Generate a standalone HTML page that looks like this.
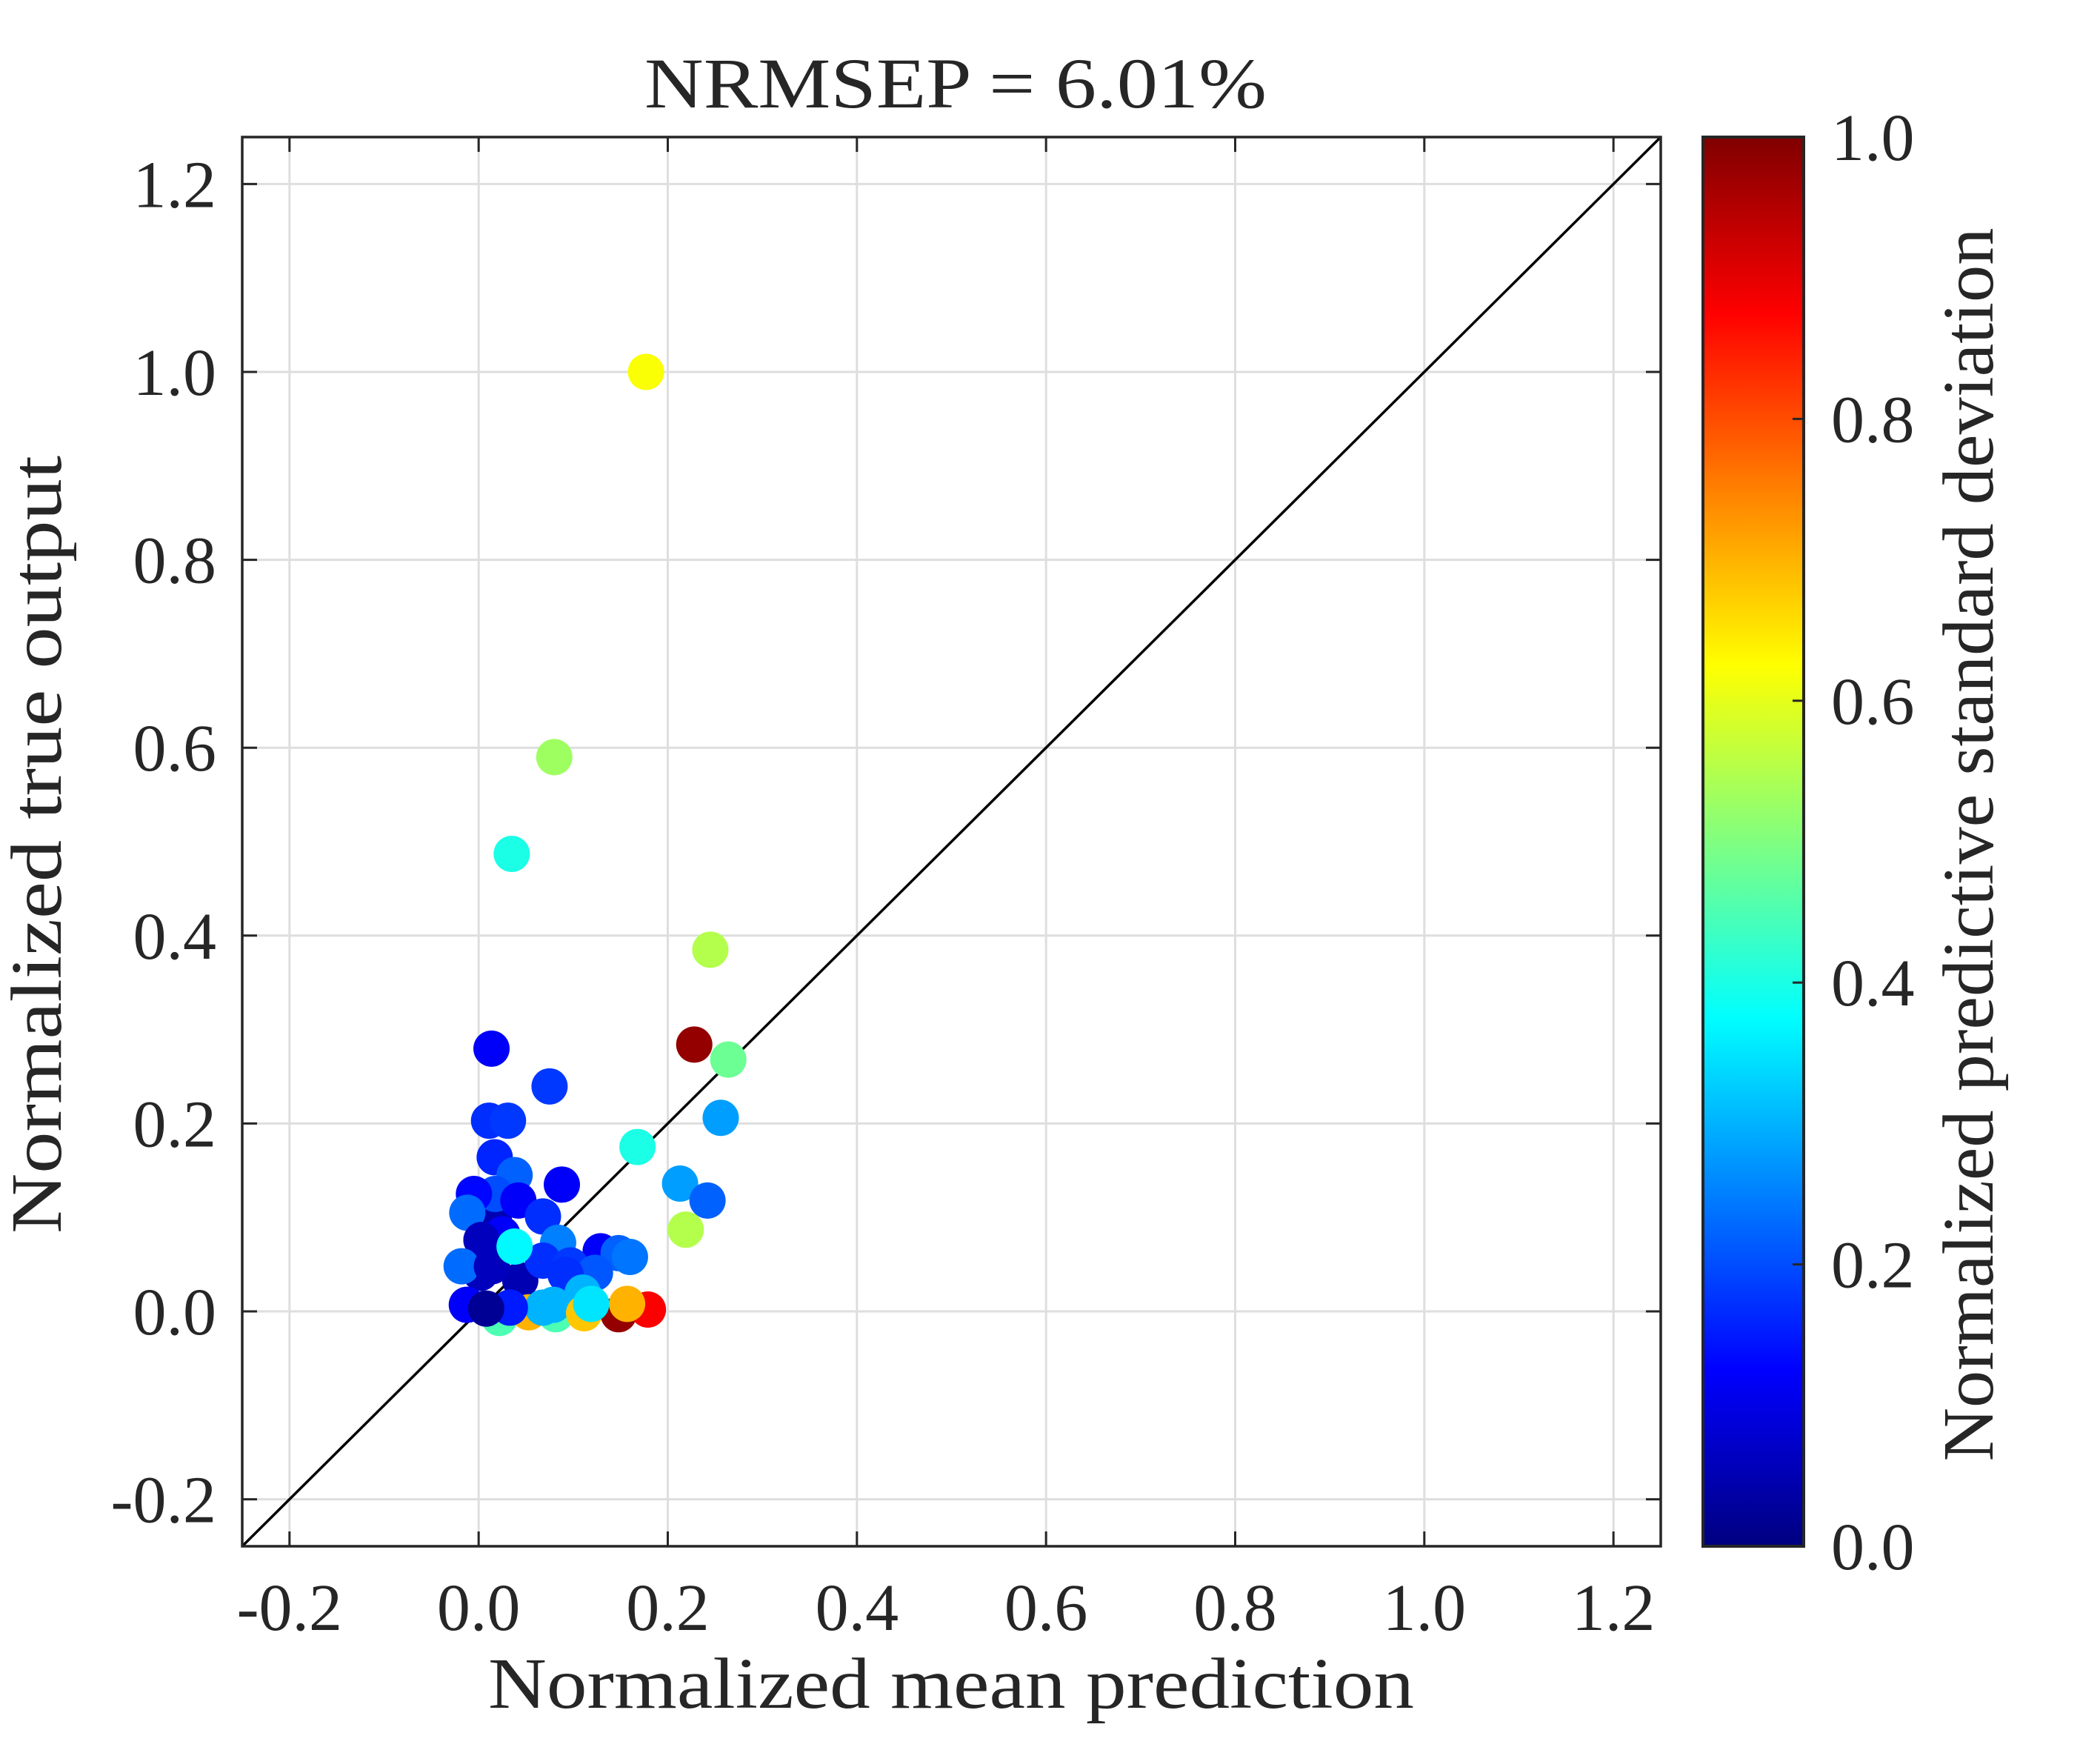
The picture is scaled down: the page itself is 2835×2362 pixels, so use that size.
<!DOCTYPE html>
<html><head><meta charset="utf-8"><style>html,body{margin:0;padding:0;background:#fff}svg{display:block}text{font-family:"Liberation Serif",serif;fill:#262626}</style></head>
<body>
<svg id="chart" width="2835" height="2362" viewBox="0 0 2835 2362" xmlns="http://www.w3.org/2000/svg">
<defs><linearGradient id="jet" x1="0" y1="1" x2="0" y2="0"></linearGradient></defs>
<rect width="2835" height="2362" fill="#fff"/>
<g id="grid"></g>
<line id="diag" stroke="#000" stroke-width="3.5"/>
<g id="pts"></g>
<g id="axes"></g>
<text x="1290" y="145" font-size="96" text-anchor="middle" textLength="840" lengthAdjust="spacingAndGlyphs">NRMSEP = 6.01%</text>
<text x="1284" y="2305" font-size="98" text-anchor="middle" textLength="1250" lengthAdjust="spacingAndGlyphs">Normalized mean prediction</text>
<text transform="translate(82,1140) rotate(-90)" font-size="98" text-anchor="middle" textLength="1050" lengthAdjust="spacingAndGlyphs">Normalized true output</text>
<text transform="translate(2690,1140) rotate(-90)" font-size="98" text-anchor="middle" textLength="1665" lengthAdjust="spacingAndGlyphs">Normalized predictive standard deviation</text>
<rect x="2299" y="185" width="136" height="1902" fill="url(#jet)" stroke="#262626" stroke-width="4"/>
<g id="cbticks"></g>
</svg>
<script>
const xTicks=[-0.2,0,0.2,0.4,0.6,0.8,1.0,1.2];
const yTicks=[-0.2,0,0.2,0.4,0.6,0.8,1.0,1.2];
const cbTicks=[0,0.2,0.4,0.6,0.8,1.0];
const xs=[0.177,0.080,0.035,0.245,0.003,0.016,0.044,0.002,0.0136,0.075,0.011,0.031,0.017,0.038,0.088,0.0175,0.042,-0.005,-0.012,0.068,0.025,0.003,0.084,0.129,0.148,0.160,-0.018,0.014,0.068,0.097,0.123,0.092,0.110,0.022,0.053,0.0815,0.068,0.079,0.1115,0.148,0.179,0.157,0.119,0.038,-0.0125,0.033,0.008,0.228,0.264,0.256,0.168,0.213,0.242,0.219];
const ys=[1.0,0.59,0.487,0.385,0.076,0.099,0.033,0.041,0.2797,0.2395,0.203,0.203,0.164,0.145,0.135,0.125,0.118,0.125,0.105,0.101,0.082,0.076,0.073,0.064,0.062,0.058,0.048,0.048,0.054,0.049,0.041,0.039,0.020,-0.007,-0.001,-0.003,0.004,0.007,-0.002,-0.003,0.002,0.008,0.008,0.069,0.007,0.004,0.003,0.284,0.268,0.206,0.175,0.136,0.118,0.087];
const cs=[0.62,0.53,0.40,0.55,0.04,0.05,0.05,0.06,0.12,0.18,0.17,0.18,0.16,0.22,0.12,0.20,0.12,0.13,0.23,0.17,0.12,0.06,0.25,0.12,0.22,0.24,0.23,0.06,0.17,0.18,0.21,0.17,0.30,0.45,0.70,0.45,0.30,0.30,0.68,0.98,0.88,0.70,0.35,0.37,0.12,0.15,0.02,0.98,0.48,0.28,0.40,0.28,0.22,0.55];
const NS="http://www.w3.org/2000/svg";
const L=327,R=2242,T=185,B=2087,lo=-0.25,hi=1.25;
const X=v=>L+(v-lo)/(hi-lo)*(R-L);
const Y=v=>B-(v-lo)/(hi-lo)*(B-T);
const CY=v=>2087-v*1902;
function jet(v){const f=t=>Math.max(0,Math.min(1,1.5-Math.abs(4*v-t)));const r=f(3),g=f(2),b=f(1);return `rgb(${Math.round(r*255)},${Math.round(g*255)},${Math.round(b*255)})`;}
function mk(tag,attrs,parent){const e=document.createElementNS(NS,tag);for(const k in attrs)e.setAttribute(k,attrs[k]);parent.appendChild(e);return e;}
const grid=document.getElementById('grid'),axes=document.getElementById('axes'),pts=document.getElementById('pts'),cbt=document.getElementById('cbticks');
const gr=document.getElementById('jet');
for(let i=0;i<=40;i++){mk('stop',{offset:(i/40),'stop-color':jet(i/40)},gr);}
xTicks.forEach(t=>{
 const g=mk('line',{x1:X(t),x2:X(t),y1:T,y2:B,stroke:'#dedede','stroke-width':3},grid);
 
 
 mk('line',{x1:X(t),x2:X(t),y1:B,y2:B-20,stroke:'#262626','stroke-width':3},axes);
 mk('line',{x1:X(t),x2:X(t),y1:T,y2:T+20,stroke:'#262626','stroke-width':3},axes);
 const tx=mk('text',{x:X(t),y:2200,'font-size':90,'text-anchor':'middle'},axes);
 tx.textContent=t.toFixed(1);
 
 
});
yTicks.forEach(t=>{
 const g=mk('line',{x1:L,x2:R,y1:Y(t),y2:Y(t),stroke:'#dedede','stroke-width':3},grid);
 
 
 mk('line',{x1:L,x2:L+20,y1:Y(t),y2:Y(t),stroke:'#262626','stroke-width':3},axes);
 mk('line',{x1:R,x2:R-20,y1:Y(t),y2:Y(t),stroke:'#262626','stroke-width':3},axes);
 const tx=mk('text',{x:292,y:Y(t)+31,'font-size':90,'text-anchor':'end'},axes);
 tx.textContent=t.toFixed(1);
 
 
});
const box=mk('rect',{x:L,y:T,width:R-L,height:B-T,fill:'none',stroke:'#262626','stroke-width':3.5},axes);


const d=document.getElementById('diag');
d.setAttribute('x1',X(lo));d.setAttribute('y1',Y(lo));d.setAttribute('x2',X(hi));d.setAttribute('y2',Y(hi));
xs.forEach((x,i)=>{
 const c=mk('circle',{cx:X(x),cy:Y(ys[i]),r:24.5,fill:jet(cs[i])},pts);
 
 
});
cbTicks.forEach(t=>{
 mk('line',{x1:2435,x2:2420,y1:CY(t),y2:CY(t),stroke:'#262626','stroke-width':3},cbt);
 const tx=mk('text',{x:2472,y:CY(t)+31,'font-size':90},cbt);
 tx.textContent=t.toFixed(1);
 
 
});
</script>
</body></html>
